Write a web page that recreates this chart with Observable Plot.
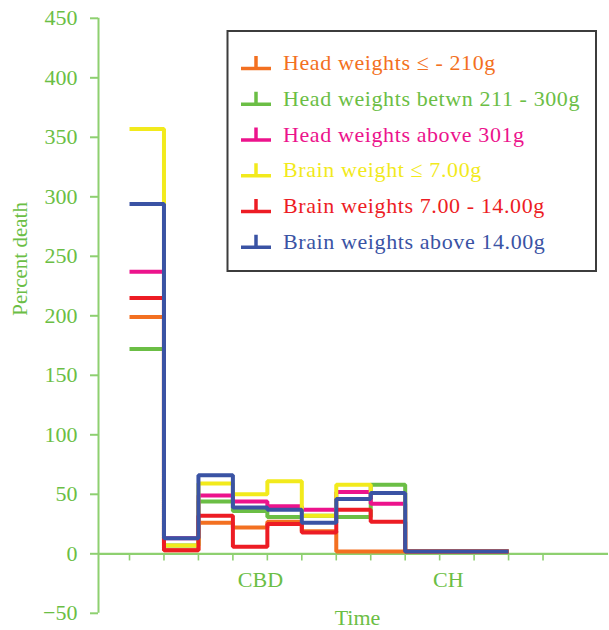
<!DOCTYPE html>
<html>
<head>
<meta charset="utf-8">
<script src="https://cdn.jsdelivr.net/npm/d3@7"></script>
<script src="https://cdn.jsdelivr.net/npm/@observablehq/plot@0.6"></script>
<style>
  body { margin: 0; background: #fff; }
  #wrap { position: relative; width: 609px; height: 630px; }
  #legend { position: absolute; left: 0; top: 0; pointer-events: none; }
</style>
</head>
<body>
<div id="wrap"></div>
<script>
// ---- data ----
const seriesNames = [
  "Head weights \u2264 - 210g",
  "Head weights betwn 211 - 300g",
  "Head weights above 301g",
  "Brain weight \u2264 7.00g",
  "Brain weights 7.00 - 14.00g",
  "Brain weights above 14.00g"
];
const seriesColors = ["#F37021", "#6BBE45", "#EC138C", "#F2EA1C", "#ED1C24", "#3A53A4"];
const xIndex = [0, 1, 2, 3, 4, 5, 6, 7, 8, 9, 10, 11];
const headLow    = [199,  3, 26, 22, 27, 19,  2,  2, 2, 2, 2, 2];
const headMid    = [172,  7, 44, 36, 31, 32, 31, 58, 2, 2, 2, 2];
const headHigh   = [237, 13, 49, 44, 40, 37, 52, 42, 2, 2, 2, 2];
const brainLow   = [357,  7, 59, 50, 61, 32, 58, 51, 2, 2, 2, 2];
const brainMid   = [215,  3, 32,  6, 25, 18, 37, 27, 2, 2, 2, 2];
const brainHigh  = [294, 13, 66, 39, 37, 26, 46, 51, 2, 2, 2, 2];
const seriesValues = [headLow, headMid, headHigh, brainLow, brainMid, brainHigh];

const xTickPos = [0, 1, 2, 3, 4, 5, 6, 7, 8, 9, 10, 11, 12];
const xLabels = ["CBD", "CH"];
const xLabelPos = [3.8, 9.25];
const yTicks = [-50, 0, 50, 100, 150, 200, 250, 300, 350, 400, 450];
const xDomain = [-0.9, 13.9];
const yDomain = [-50, 450];

const textGreen = "#6BBE45";
const lineGreen = "#8ED070";
const FONT = "'Liberation Serif', 'DejaVu Serif', serif";

const data = seriesNames.flatMap((name, s) =>
  xIndex.map((x, i) => ({series: name, x, y: seriesValues[s][i]})));

const chart = Plot.plot({
  width: 609,
  height: 630,
  marginLeft: 98,
  marginRight: 1,
  marginTop: 17.8,
  marginBottom: 17.2,
  style: {fontFamily: FONT, fontSize: "22px", background: "white"},
  x: {domain: xDomain, axis: null},
  y: {domain: yDomain, axis: null},
  color: {domain: seriesNames, range: seriesColors},
  marks: [
    Plot.axisY({ticks: yTicks, tickSize: 8, tickPadding: 13, color: textGreen, stroke: lineGreen,
      strokeWidth: 2, fontSize: 22, label: null}),
    Plot.ruleX([xDomain[0]], {y1: yDomain[0], y2: yDomain[1], stroke: lineGreen, strokeWidth: 2}),
    Plot.ruleY([0], {stroke: lineGreen, strokeWidth: 2.2}),
    Plot.ruleX(xTickPos, {x: d => d, y1: 0, y2: -6, stroke: lineGreen, strokeWidth: 1.6}),
    Plot.line(data, {x: "x", y: "y", z: "series", stroke: "series", curve: "step-after",
      strokeWidth: 4, strokeLinejoin: "miter", strokeLinecap: "butt"}),
    Plot.text(xLabels, {x: (d, i) => xLabelPos[i], text: d => d, frameAnchor: "bottom", dy: -33,
      fill: textGreen, fontSize: 22, lineAnchor: "middle"}),
    Plot.text(["Time"], {text: d => d, frameAnchor: "bottom", dx: 4, dy: 5,
      fill: textGreen, fontSize: 22, lineAnchor: "middle"}),
    Plot.text(["Percent death"], {text: d => d, frameAnchor: "left", dx: -78, rotate: -90,
      fill: textGreen, fontSize: 21, lineAnchor: "middle"})
  ]
});

const wrap = document.getElementById("wrap");
wrap.appendChild(chart);

// ---- legend (overlay) ----
const leg = d3.select(wrap).append("svg")
  .attr("id", "legend").attr("width", 609).attr("height", 630);
leg.append("rect")
  .attr("x", 227.5).attr("y", 31).attr("width", 368.5).attr("height", 240)
  .attr("fill", "white").attr("stroke", "#3c3c3c").attr("stroke-width", 2);
seriesNames.forEach((name, i) => {
  const base = 70 + i * 35.75;
  const g = leg.append("g").attr("stroke", seriesColors[i]);
  g.append("line").attr("x1", 241).attr("x2", 271).attr("y1", base - 1.5).attr("y2", base - 1.5)
    .attr("stroke-width", 3.5);
  g.append("line").attr("x1", 256).attr("x2", 256).attr("y1", base - 14).attr("y2", base - 1.5)
    .attr("stroke-width", 3.5);
  leg.append("text").attr("x", 283).attr("y", base)
    .attr("fill", seriesColors[i]).attr("font-family", FONT).attr("font-size", 22)
    .attr("letter-spacing", 0.6)
    .text(name);
});
</script>
</body>
</html>
